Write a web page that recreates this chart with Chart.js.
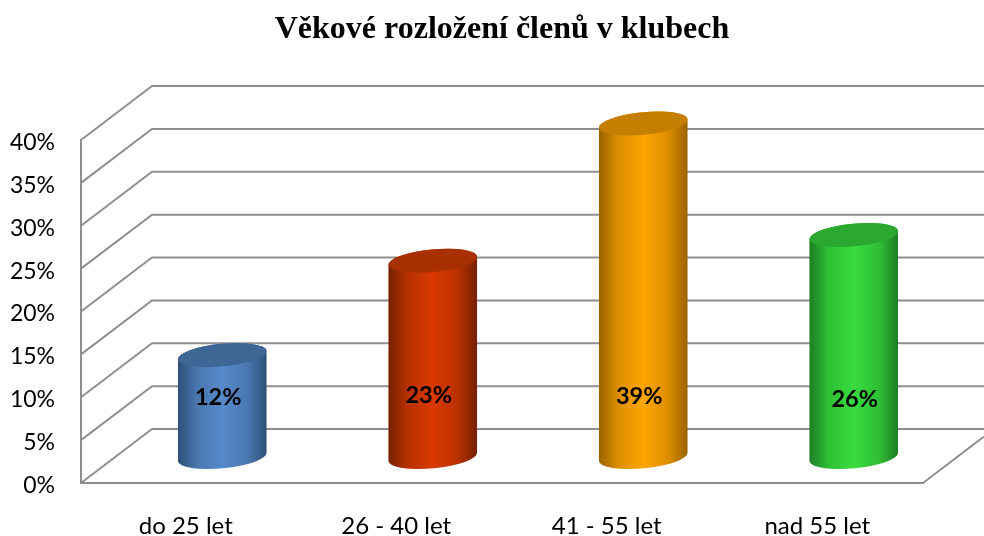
<!DOCTYPE html>
<html><head><meta charset="utf-8">
<style>html,body{margin:0;padding:0;background:#fff}canvas{display:block}</style>
<script src="https://cdn.jsdelivr.net/npm/chart.js@4"></script>
</head><body>
<canvas id="c" width="984" height="536"></canvas>
<script>
const titleText = "Věkové rozložení členů v klubech";
const categories = ["do 25 let", "26 - 40 let", "41 - 55 let", "nad 55 let"];
const values = [12, 23, 39, 26];
const edgeColors = ["#2f4f78", "#742000", "#9a6200", "#1c7f23"];
const shadeColors = ["#4a78b0", "#b83100", "#dd8f00", "#2fbf35"];
const midColors = ["#5689cb", "#d93900", "#ffa500", "#38dc3e"];
const capColors = ["#3f6796", "#a83000", "#c47e00", "#2aa830"];

const LINE = "#8f8f8f", DX = 71, DY = 54, BACK_RIGHT = 984;
const BAR_DX = 36, BAR_DY = 25, RY = 11.3, ROT = -5.5 * Math.PI / 180;
const LABEL_Y = [397, 395, 396, 399], LABEL_NUDGE = [-4, -4, -4, 1];

const wall = {
  id: "wall",
  beforeDatasetsDraw(chart) {
    const { ctx, chartArea: a, scales: { y } } = chart;
    ctx.save();
    ctx.strokeStyle = LINE; ctx.lineWidth = 2; ctx.lineJoin = "miter";
    y.ticks.forEach(t => {
      const py = y.getPixelForValue(t.value);
      ctx.beginPath();
      ctx.moveTo(a.left, py);
      ctx.lineTo(a.left + DX, py - DY);
      ctx.lineTo(BACK_RIGHT, py - DY);
      ctx.stroke();
    });
    const py0 = y.getPixelForValue(0);
    ctx.beginPath();
    ctx.moveTo(a.right, py0);
    ctx.lineTo(BACK_RIGHT, py0 - (BACK_RIGHT - a.right) * DY / DX);
    ctx.stroke();
    ctx.restore();
  }
};

const cylinders = {
  id: "cylinders",
  beforeDatasetDraw(chart) {
    const { ctx } = chart;
    const els = chart.getDatasetMeta(0).data;
    els.forEach((el, i) => {
      const rx = el.width / 2 + 0.5;
      const cx = el.x + BAR_DX, yT = el.y - BAR_DY, yB = el.base - BAR_DY - 1;
      const g = ctx.createLinearGradient(cx - rx, 0, cx + rx, 0);
      g.addColorStop(0, edgeColors[i]);
      g.addColorStop(0.22, shadeColors[i]);
      g.addColorStop(0.5, midColors[i]);
      g.addColorStop(0.78, shadeColors[i]);
      g.addColorStop(1, edgeColors[i]);
      ctx.save();
      ctx.beginPath();
      ctx.ellipse(cx, yT, rx, RY, ROT, Math.PI, 0, false);
      ctx.ellipse(cx, yB, rx, RY, ROT, 0, Math.PI, false);
      ctx.closePath();
      ctx.fillStyle = g; ctx.fill();
      ctx.beginPath();
      ctx.ellipse(cx, yT, rx, RY, ROT, 0, Math.PI * 2);
      ctx.fillStyle = capColors[i]; ctx.fill();
      ctx.restore();
    });
    return false;
  },
  afterDatasetsDraw(chart) {
    const { ctx } = chart;
    ctx.save();
    ctx.font = "bold 23.5px Lato";
    ctx.fillStyle = "#000";
    ctx.textAlign = "center"; ctx.textBaseline = "middle";
    chart.getDatasetMeta(0).data.forEach((el, i) => {
      ctx.fillText(values[i] + "%", el.x + BAR_DX + LABEL_NUDGE[i], LABEL_Y[i]);
    });
    ctx.restore();
  }
};

new Chart(document.getElementById("c"), {
  type: "bar",
  data: { labels: categories, datasets: [{ data: values, barPercentage: 0.418, categoryPercentage: 1, backgroundColor: midColors }] },
  plugins: [wall, cylinders],
  options: {
    responsive: false, animation: false,
    layout: { padding: { left: 0, right: 61, top: 0, bottom: 0 } },
    events: [],
    plugins: {
      legend: { display: false }, tooltip: { enabled: false },
      title: { display: true, text: titleText, fullSize: false, color: "#000",
        font: { family: "Liberation Serif", size: 32, weight: "bold", lineHeight: 1.2 },
        padding: { top: 11, bottom: 90.6 } }
    },
    scales: {
      x: {
        grid: { display: false, drawTicks: false },
        border: { display: true, color: LINE, width: 2 },
        ticks: { color: "#000", font: { family: "Lato", size: 24 }, padding: 29, maxRotation: 0, labelOffset: -0.5 },
        afterFit(s) { s.height = 53; }
      },
      y: {
        min: 0, max: 40,
        grid: { display: false, drawTicks: false },
        border: { display: true, color: LINE, width: 2 },
        ticks: { stepSize: 5, color: "#000", font: { family: "Lato", size: 23 }, padding: 26, labelOffset: 2.5, callback: v => v + "%" },
        afterFit(s) { s.width = 81; }
      }
    }
  }
});
</script>
</body></html>
